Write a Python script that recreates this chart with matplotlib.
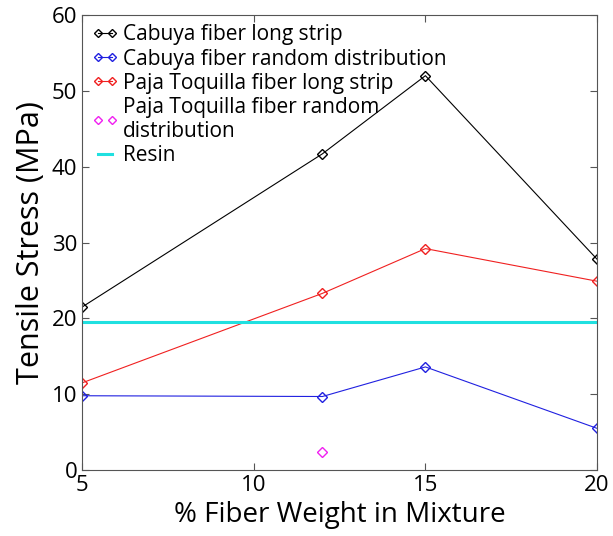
import matplotlib
matplotlib.use("Agg")
import matplotlib.pyplot as plt

plt.rcParams['font.family'] = ['Open Sans', 'DejaVu Sans']

# fiber weight (%)
fiber_weight = [5, 12, 15, 20]
cabuya_long = [21.5, 41.7, 52.0, 27.8]
cabuya_random = [9.8, 9.7, 13.6, 5.5]
paja_long = [11.5, 23.3, 29.2, 24.9]
paja_random_x = [12]
paja_random = [2.4]
resin = 19.5

fig = plt.figure(figsize=(6.13, 5.36), dpi=100)
ax = fig.add_axes([0.134, 0.123, 0.840, 0.849])

mk = dict(marker='D', markersize=5, markerfacecolor='none', markeredgewidth=1.0, linewidth=0.8)
ax.plot(fiber_weight, cabuya_long, color='black', label='Cabuya fiber long strip', **mk)
ax.plot(fiber_weight, cabuya_random, color='#2020e0', label='Cabuya fiber random distribution', **mk)
ax.plot(fiber_weight, paja_long, color='#f02020', label='Paja Toquilla fiber long strip', **mk)
ax.plot(paja_random_x, paja_random, color='#f020f0', linestyle='none', marker='D', markersize=5,
        markerfacecolor='none', markeredgewidth=1.0,
        label='Paja Toquilla fiber random\ndistribution')
ax.axhline(resin, color='#20e0e0', linewidth=2.2, label='Resin')

ax.set_xlim(5, 20)
ax.set_ylim(0, 60)
ax.set_xticks([5, 10, 15, 20])
ax.set_yticks([0, 10, 20, 30, 40, 50, 60])
ax.tick_params(direction='in', top=True, right=True, labelsize=16, length=5, color='#555555')
for s in ax.spines.values():
    s.set_color('#555555')
ax.set_xlabel('% Fiber Weight in Mixture', fontsize=20)
ax.set_ylabel('Tensile Stress (MPa)', fontsize=22)

ax.legend(loc='upper left', frameon=False, fontsize=15, handlelength=1.3, handletextpad=0.2,
          borderaxespad=0.25, labelspacing=0.15, borderpad=0.2, markerscale=0.8, numpoints=2)

plt.savefig('out.png', dpi=100)
plt.close()
